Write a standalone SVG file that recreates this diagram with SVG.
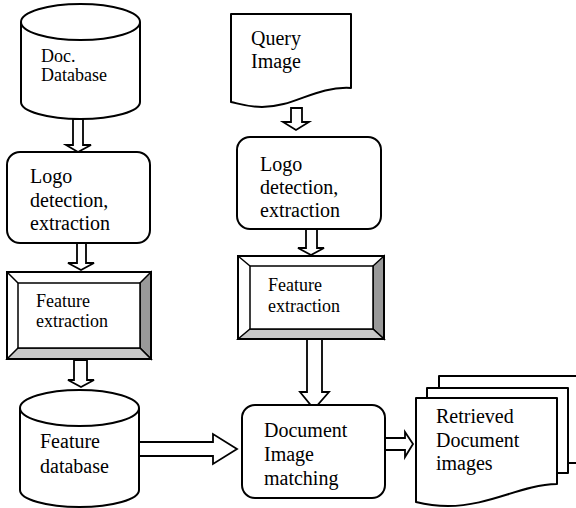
<svg xmlns="http://www.w3.org/2000/svg" width="576" height="508" viewBox="0 0 576 508">
<style>
.s{fill:#fff;stroke:#000;stroke-width:2;stroke-linejoin:round}
.a{fill:#fff;stroke:#000;stroke-width:1.8;stroke-linejoin:miter}
.t{font-family:"Liberation Serif","Times New Roman",serif;font-size:20px;fill:#000}
.t18{font-size:18px}
.dk{fill:#999;stroke:#000;stroke-width:1.5}
.lt{fill:#c8c8c8;stroke:#000;stroke-width:1.5}
.wh{fill:#fff;stroke:#000;stroke-width:1.5}
</style>
<rect width="576" height="508" fill="#fff"/>
<g id="connectors">
<path class="a" d="M73,119 V145 H66 L78,152 L91,145 H83 V119 Z"/>
<path class="a" d="M77,243 V263 H68 L81,270 L94,263 H86 V243 Z"/>
<path class="a" d="M74,360 V380 H68 L81,387 L94,380 H87 V360 Z"/>
<path class="a" d="M291,108 V122 H283 L296,130 L309,122 H302 V108 Z"/>
<path class="a" d="M306,229 V248 H298 L311,255 L324,248 H317 V229 Z"/>
<path class="a" d="M307,339 V392 H300 L314,409 L329,392 H322 V339 Z"/>
<path class="a" d="M139,442 H213 V434 L237,449 L213,464 V456 H139 Z"/>
<path class="a" d="M385,438 H405 V432 L413,444 L405,457 V450 H385 Z"/>
</g>
<g id="doc-database">
<path class="s" d="M21,22 V102 A59.5,17 0 0 0 140,102 V22"/>
<ellipse class="s" cx="80.5" cy="22" rx="59.5" ry="18"/>
<text class="t t18" x="41" y="62">Doc.</text>
<text class="t t18" x="41" y="81">Database</text>
</g>
<g id="logo-left">
<rect class="s" x="7" y="152" width="143" height="91" rx="13"/>
<text class="t" x="30" y="183">Logo</text>
<text class="t" x="30" y="207">detection,</text>
<text class="t" x="30" y="230">extraction</text>
</g>
<g id="feature-left">
<rect class="wh" x="7" y="272" width="144" height="87"/>
<polygon class="dk" points="151,272 140,283 140,348 151,359"/>
<polygon class="lt" points="7,359 18,348 140,348 151,359"/>
<rect class="wh" x="18" y="283" width="122" height="65"/>
<line x1="7" y1="272" x2="18" y2="283" stroke="#000" stroke-width="1.5"/>
<rect x="7" y="272" width="144" height="87" fill="none" stroke="#000" stroke-width="2"/>
<text class="t t18" x="36" y="307">Feature</text>
<text class="t t18" x="36" y="327">extraction</text>
</g>
<g id="feature-database">
<path class="s" d="M20,408 V490 A59.5,17 0 0 0 139,490 V408"/>
<ellipse class="s" cx="79.5" cy="408" rx="59.5" ry="18"/>
<text class="t" x="40" y="448">Feature</text>
<text class="t" x="40" y="473">database</text>
</g>
<g id="query-image">
<path class="s" d="M231,14 H351 V88 C315,86 295,107 262,107 C248,107 240,104 231,102 Z"/>
<text class="t" x="251" y="45">Query</text>
<text class="t" x="251" y="68">Image</text>
</g>
<g id="logo-right">
<rect class="s" x="237" y="137" width="144" height="92" rx="13"/>
<text class="t" x="260" y="171">Logo</text>
<text class="t" x="260" y="194">detection,</text>
<text class="t" x="260" y="217">extraction</text>
</g>
<g id="feature-right">
<rect class="wh" x="238" y="256" width="146" height="83"/>
<polygon class="dk" points="384,256 373,266 373,329 384,339"/>
<polygon class="lt" points="238,339 250,329 373,329 384,339"/>
<rect class="wh" x="250" y="266" width="123" height="63"/>
<line x1="238" y1="256" x2="250" y2="266" stroke="#000" stroke-width="1.5"/>
<rect x="238" y="256" width="146" height="83" fill="none" stroke="#000" stroke-width="2"/>
<text class="t t18" x="268" y="291">Feature</text>
<text class="t t18" x="268" y="312">extraction</text>
</g>
<g id="matching">
<rect class="s" x="242" y="405" width="143" height="93" rx="13"/>
<text class="t" x="264" y="437">Document</text>
<text class="t" x="264" y="461">Image</text>
<text class="t" x="264" y="485">matching</text>
</g>
<g id="retrieved">
<path class="s" d="M439,387 V376 H578 V463 H568"/>
<path class="s" d="M427,398 V388 H568 V473 H557"/>
<path class="s" d="M416,398 H557 V484 C520,485 490,506 448,506 C432,506 424,504 416,502 Z"/>
<text class="t" x="436" y="423">Retrieved</text>
<text class="t" x="436" y="447">Document</text>
<text class="t" x="436" y="470">images</text>
</g>
</svg>
